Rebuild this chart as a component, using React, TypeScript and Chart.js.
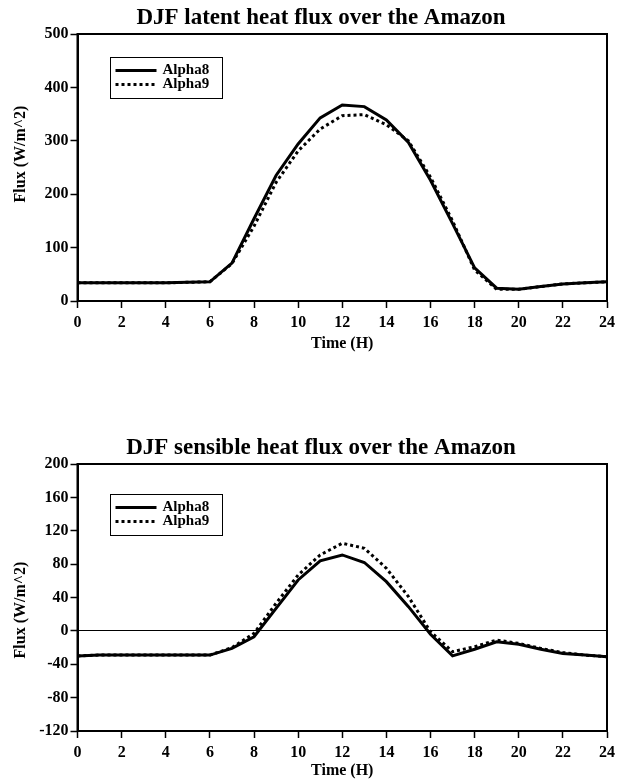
import React, { useEffect, useRef } from "react";
import { Chart, registerables } from "chart.js";

Chart.register(...registerables);

// ---------- data ----------
const HOURS = [0, 1, 2, 3, 4, 5, 6, 7, 8, 9, 10, 11, 12, 13, 14, 15, 16, 17, 18, 19, 20, 21, 22, 23, 24];
const X_TICKS = [0, 2, 4, 6, 8, 10, 12, 14, 16, 18, 20, 22, 24];

const LATENT_TITLE = "DJF latent heat flux over the Amazon";
const LATENT_Y_TICKS = [0, 100, 200, 300, 400, 500];
const LATENT_ALPHA8 = [34, 34, 34, 34, 34, 35, 36, 71, 154, 235, 294, 343, 367, 364, 339, 297, 226, 145, 62, 24, 22, 27, 32, 34, 36];
const LATENT_ALPHA9 = [34, 34, 34, 34, 34, 35, 36, 70, 140, 222, 281, 322, 347, 349, 330, 300, 232, 150, 58, 22, 22, 27, 32, 34, 36];

const SENSIBLE_TITLE = "DJF sensible heat flux over the Amazon";
const SENSIBLE_Y_TICKS = [-120, -80, -40, 0, 40, 80, 120, 160, 200];
const SENSIBLE_ALPHA8 = [-30, -29, -29, -29, -29, -29, -29, -21, -7, 27, 61, 84, 91, 82, 59, 29, -4, -30, -22, -13, -16, -22, -27, -29, -31];
const SENSIBLE_ALPHA9 = [-30, -29, -29, -29, -29, -29, -29, -20, -3, 33, 67, 91, 105, 99, 75, 41, -1, -25, -19, -11, -15, -21, -26, -29, -31];

const SERIES_NAMES = ["Alpha8", "Alpha9"];
const X_TITLE = "Time (H)";
const Y_TITLE = "Flux (W/m^2)";

// ---------- styling ----------
const FONT = '"Liberation Serif", "Times New Roman", serif';
Chart.defaults.font.family = FONT;
Chart.defaults.color = "#000";

const decorPlugin = {
  id: "decor",
  afterLayout(chart: any, _args: any, opts: any) {
    const t = chart.titleBlock;
    if (t) {
      t.left = opts.titleLeft;
      t.right = opts.titleRight;
    }
  },
  afterDraw(chart: any, _args: any, opts: any) {
    const { ctx, chartArea: a } = chart;
    ctx.save();
    // plot frame
    ctx.strokeStyle = "#000";
    ctx.lineWidth = 2;
    ctx.strokeRect(a.left, a.top, a.right - a.left, a.bottom - a.top);
    // y-axis title
    ctx.save();
    ctx.translate(opts.yTitleX, opts.yTitleY);
    ctx.rotate(-Math.PI / 2);
    ctx.font = `bold 16px ${FONT}`;
    ctx.fillStyle = "#000";
    ctx.textAlign = "center";
    ctx.textBaseline = "middle";
    ctx.fillText(opts.yTitle, 0, 0);
    ctx.restore();
    // legend box
    const bx = Math.round(a.left + opts.legendX) + 0.5;
    const by = Math.round(a.top + opts.legendY) + 0.5;
    ctx.lineWidth = 1;
    ctx.strokeRect(bx, by, opts.legendW, opts.legendH);
    chart.data.datasets.forEach((ds: any, i: number) => {
      const y = by + opts.row0 + i * opts.rowGap;
      ctx.setLineDash(ds.borderDash || []);
      ctx.lineWidth = ds.borderWidth;
      ctx.lineCap = "butt";
      ctx.beginPath();
      ctx.moveTo(bx + 5, y);
      ctx.lineTo(bx + 46, y);
      ctx.stroke();
      ctx.setLineDash([]);
      ctx.font = `bold 15px ${FONT}`;
      ctx.fillStyle = "#000";
      ctx.textBaseline = "middle";
      ctx.textAlign = "left";
      ctx.fillText(ds.label, bx + 52, y);
    });
    ctx.restore();
  },
};

function makeConfig(p: {
  title: string;
  a8: number[];
  a9: number[];
  yTicks: number[];
  titleTop: number;
  titleBottom: number;
  xAxisHeight: number;
  xTitleBottom: number;
  zeroLine: boolean;
  legendY: number;
  yTitleY: number;
}): any {
  const yMin = p.yTicks[0];
  const yMax = p.yTicks[p.yTicks.length - 1];
  return {
    type: "line",
    data: {
      datasets: [
        {
          label: SERIES_NAMES[0],
          data: HOURS.map((h, i) => ({ x: h, y: p.a8[i] })),
          borderColor: "#000",
          borderWidth: 3,
          pointRadius: 0,
          tension: 0,
          fill: false,
        },
        {
          label: SERIES_NAMES[1],
          data: HOURS.map((h, i) => ({ x: h, y: p.a9[i] })),
          borderColor: "#000",
          borderWidth: 3,
          borderDash: [3, 3],
          pointRadius: 0,
          tension: 0,
          fill: false,
        },
      ],
    },
    options: {
      responsive: false,
      animation: false,
      layout: { padding: { left: 0, right: 13, top: 0, bottom: 0 } },
      plugins: {
        legend: { display: false },
        tooltip: { enabled: false },
        title: {
          display: true,
          text: p.title,
          color: "#000",
          font: { size: 23, weight: "bold", family: FONT },
          padding: { top: p.titleTop, bottom: p.titleBottom },
        },
        decor: {
          titleLeft: 22,
          titleRight: 620,
          yTitle: Y_TITLE,
          yTitleX: 21,
          yTitleY: p.yTitleY,
          legendX: 32,
          legendY: p.legendY,
          legendW: 112,
          legendH: 41,
          row0: 13,
          rowGap: 14,
        },
      },
      scales: {
        x: {
          type: "linear",
          min: 0,
          max: 24,
          afterBuildTicks: (s: any) => {
            s.ticks = X_TICKS.map((v) => ({ value: v }));
          },
          afterFit: (s: any) => {
            s.height = p.xAxisHeight;
          },
          border: { display: true, color: "#000", width: 2 },
          grid: {
            drawOnChartArea: false,
            drawTicks: true,
            tickLength: 7,
            tickColor: "#000",
            tickWidth: 1.5,
          },
          ticks: {
            color: "#000",
            padding: 5,
            maxRotation: 0,
            autoSkip: false,
            font: { size: 16, weight: "bold", family: FONT },
          },
          title: {
            display: true,
            text: X_TITLE,
            color: "#000",
            font: { size: 16, weight: "bold", family: FONT },
            padding: { top: 0, bottom: p.xTitleBottom },
          },
        },
        y: {
          type: "linear",
          min: yMin,
          max: yMax,
          afterBuildTicks: (s: any) => {
            s.ticks = p.yTicks.map((v) => ({ value: v }));
          },
          afterFit: (s: any) => {
            s.width = 77.5;
          },
          border: { display: true, color: "#000", width: 2 },
          grid: {
            drawOnChartArea: p.zeroLine,
            drawTicks: true,
            tickLength: 7,
            tickColor: "#000",
            tickWidth: 1.5,
            color: (c: any) => (c.tick && c.tick.value === 0 ? "#000" : "rgba(0,0,0,0)"),
            lineWidth: 1,
          },
          ticks: {
            color: "#000",
            padding: 2,
            font: { size: 16, weight: "bold", family: FONT },
          },
          title: { display: false },
        },
      },
    },
    plugins: [decorPlugin],
  };
}

function FluxChart({ top, config }: { top: number; config: any }) {
  const ref = useRef<HTMLCanvasElement | null>(null);
  useEffect(() => {
    if (!ref.current) return;
    const chart = new Chart(ref.current, config);
    return () => chart.destroy();
  }, []);
  return (
    <canvas
      ref={ref}
      width={620}
      height={360}
      style={{ position: "absolute", left: 0, top, width: 620, height: 360 }}
    />
  );
}

export default function App() {
  const latent = makeConfig({
    title: LATENT_TITLE,
    a8: LATENT_ALPHA8,
    a9: LATENT_ALPHA9,
    yTicks: LATENT_Y_TICKS,
    titleTop: 4,
    titleBottom: 2.4,
    xAxisHeight: 59,
    xTitleBottom: 7,
    zeroLine: false,
    legendY: 23,
    yTitleY: 154,
  });
  const sensible = makeConfig({
    title: SENSIBLE_TITLE,
    a8: SENSIBLE_ALPHA8,
    a9: SENSIBLE_ALPHA9,
    yTicks: SENSIBLE_Y_TICKS,
    titleTop: 14,
    titleBottom: 2.4,
    xAxisHeight: 49,
    xTitleBottom: 0,
    zeroLine: true,
    legendY: 30,
    yTitleY: 190,
  });
  return (
    <div style={{ position: "absolute", left: 0, top: 0, width: 620, height: 780, background: "#fff" }}>
      <FluxChart top={0} config={latent} />
      <FluxChart top={420} config={sensible} />
    </div>
  );
}
